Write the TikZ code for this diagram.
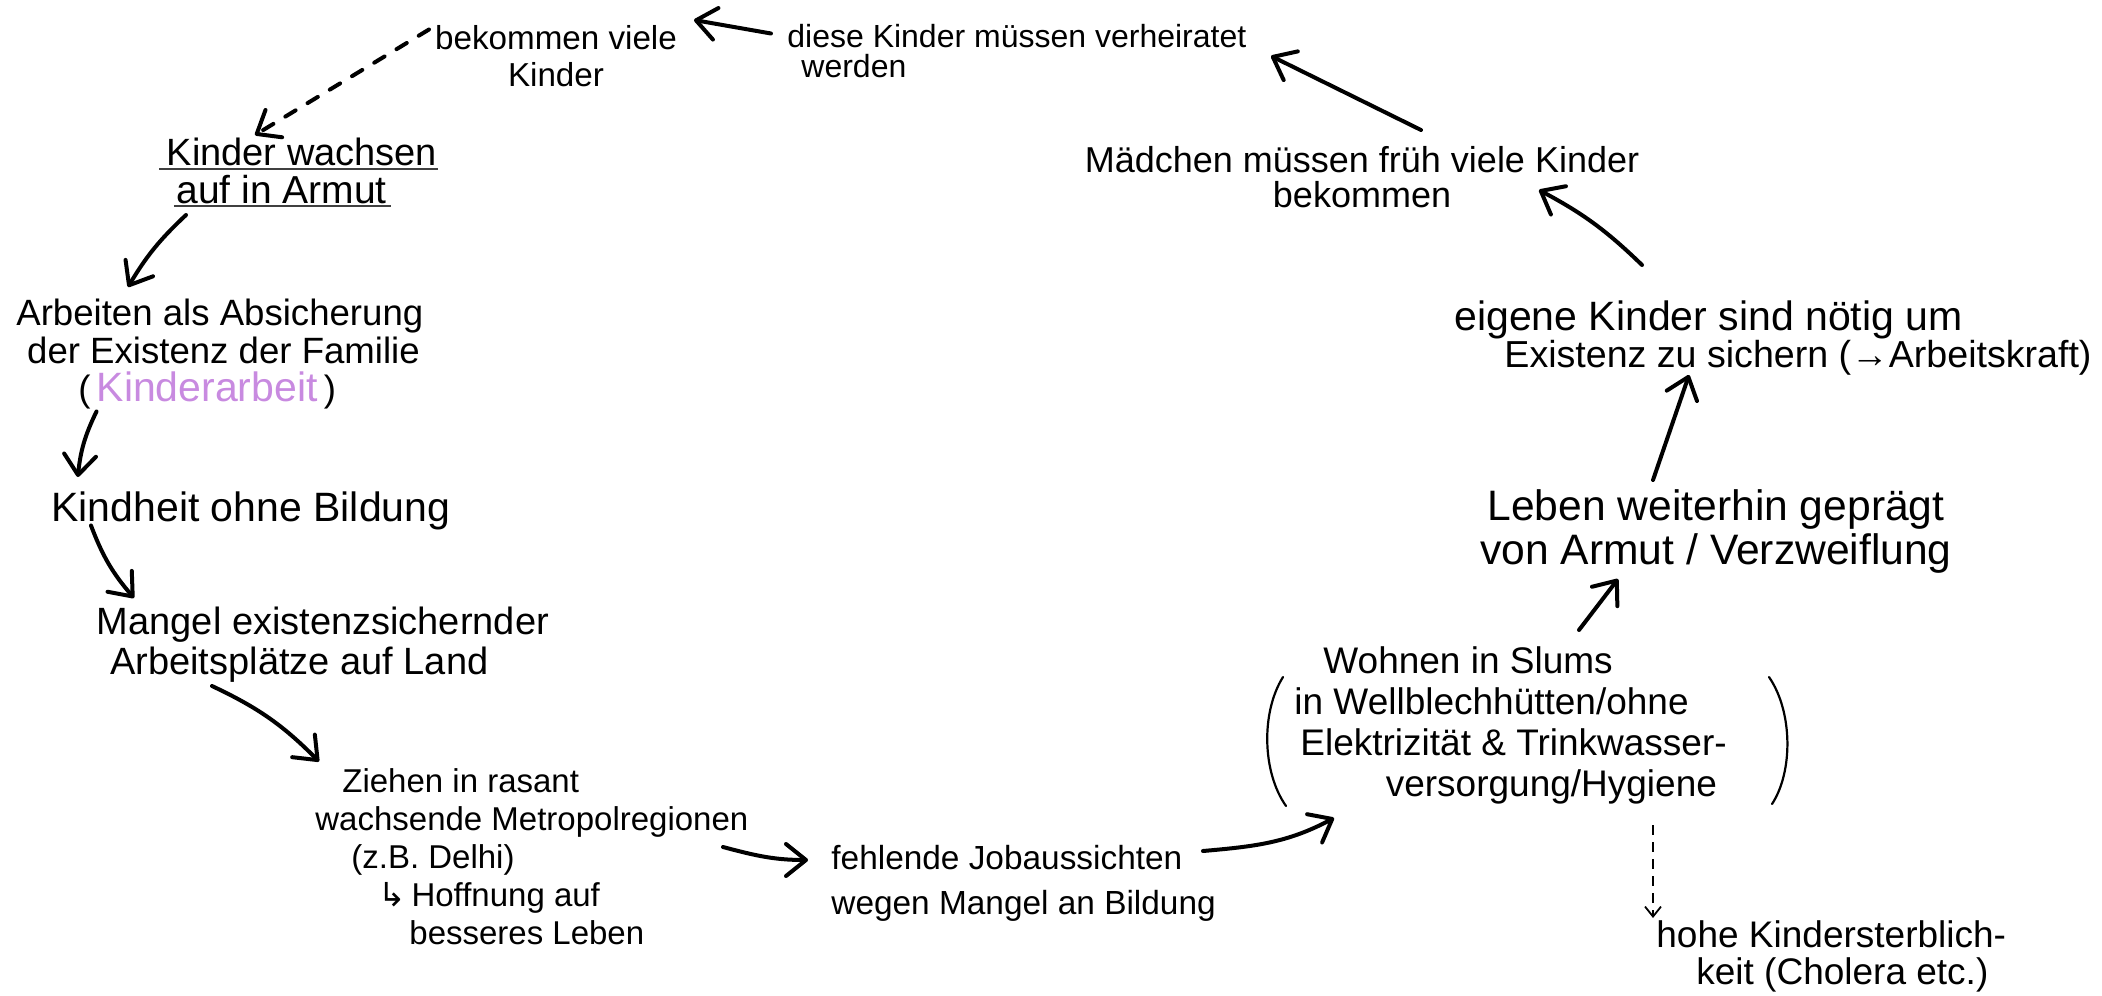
\documentclass[tikz,border=0pt]{standalone}
\usepackage{fontspec}
\setmainfont{Liberation Sans}
\newfontfamily\dejavu{DejaVu Sans}
\usetikzlibrary{arrows.meta}
\definecolor{kviolet}{RGB}{200,138,224}
\newcommand{\fsz}[2]{\fontsize{#1}{#2}\selectfont}
\begin{document}
\begin{tikzpicture}[x=0.5pt,y=0.5pt,
  txt/.style={inner sep=0pt, text=black},
  arr/.style={line width=2pt, line cap=round, -{Straight Barb[length=10pt,width=16pt,round]}},
  darr/.style={arr, dash pattern=on 6pt off 7pt},
  tarr/.style={line width=0.9pt, dash pattern=on 5pt off 3.5pt, -{Straight Barb[length=5pt,width=8pt]}},
  uline/.style={line width=1.2pt, draw=black!75},
  paren/.style={line width=1.1pt, line cap=round}]
\useasboundingbox (0,0) rectangle (2102,-995);

\node[txt, align=center, font=\fsz{16.6}{18.5}] (A) at (556,-56) {bekommen viele\\Kinder};
\node[txt, anchor=west, align=left, font=\fsz{16}{15}] (B) at (787,-51) {diese Kinder müssen verheiratet\\\hspace*{7pt}werden};
\node[txt, align=center, font=\fsz{18}{17.5}] (C) at (1362,-177) {Mädchen müssen früh viele Kinder\\bekommen};
\node[txt, anchor=west, align=left, font=\fsz{18.8}{18.8}] (D) at (1454,-338) {{\fsz{20.5}{18.8}eigene Kinder sind nötig um}\\\hspace*{25pt}Existenz zu sichern (→Arbeitskraft)};
\node[txt, align=center, font=\fsz{21.3}{22}] (E) at (1716,-531) {Leben weiterhin geprägt\\von Armut / Verzweiflung};
\node[txt, anchor=west, align=left, font=\fsz{18.5}{20.5}] (F) at (1294,-725) {\hspace*{14.5pt}Wohnen in Slums\\in Wellblechhütten/ohne\\\hspace*{3pt}Elektrizität \& Trinkwasser-\\\hspace*{45.7pt}versorgung/Hygiene};
\node[txt, anchor=west, align=left, font=\fsz{18.5}{18.5}] (G) at (1656,-956) {hohe Kindersterblich-\\\hspace*{20pt}keit (Cholera etc.)};
\node[txt, anchor=west, align=left, font=\fsz{16.7}{22.5}] (H) at (831,-883.5) {fehlende Jobaussichten\\wegen Mangel an Bildung};
\node[txt, anchor=west, align=left, font=\fsz{16.5}{19}] (I) at (315,-857) {\hspace*{13.5pt}Ziehen in rasant\\wachsende Metropolregionen\\\hspace*{18pt}(z.B. Delhi)\\\hspace*{31.5pt}{\dejavu ↳}\,Hoffnung auf\\\hspace*{47pt}besseres Leben};
\node[txt, anchor=west, align=left, font=\fsz{19}{20}] (J) at (96.5,-645) {Mangel existenzsichernder\\\hspace*{6.7pt}Arbeitsplätze auf Land};
\node[txt, anchor=west, font=\fsz{20.5}{20.5}] (K) at (51,-511) {Kindheit ohne Bildung};
\node[txt, anchor=west, align=left, font=\fsz{18.3}{19.2}] (L) at (16,-354) {Arbeiten als Absicherung\\\hspace*{5.4pt}der Existenz der Familie\\\hspace*{31pt}(\,{\fsz{20.5}{19.2}\color{kviolet}Kinderarbeit}\,)};
\node[txt, anchor=base, font=\fsz{19}{19}] (M1) at (302,-165) {Kinder wachsen};
\node[txt, anchor=base, font=\fsz{19.5}{19.5}] (M2) at (281.5,-203) {auf in Armut};

\draw[uline] ([shift={(-7,-4)}]M1.base west) -- ([shift={(0,-4)}]M1.base east);
\draw[uline] ([shift={(-2,-3)}]M2.base west) -- ([shift={(4,-3)}]M2.base east);

\draw[paren] (1283,-677) .. controls (1261,-712) and (1262,-772) .. (1286,-806);
\draw[paren] (1769,-677) .. controls (1793,-712) and (1793,-772) .. (1772,-804);

\draw[darr] ([shift={(-127,26.5)}]A.center) -- ([shift={(-47,30)}]M1.base);
\draw[arr] ([shift={(-16,17.5)}]B.west) -- ([shift={(138,36)}]A.center);
\draw[arr] ([shift={(59,47)}]C.center) -- ([shift={(484,-5)}]B.west);
\draw[arr] ([shift={(188,73)}]D.west) to[bend right=8] ([shift={(177,-13)}]C.center);
\draw[arr] ([shift={(-63,51)}]E.center) -- ([shift={(235,-37)}]D.west);
\draw[arr] ([shift={(285,95)}]F.west) -- ([shift={(-98,-48)}]E.center);
\draw[tarr] ([shift={(359,-100)}]F.west) -- ([shift={(-3,38)}]G.west);
\draw[arr] ([shift={(372,32.5)}]H.west) to[out=5,in=208] ([shift={(40,-93)}]F.west);
\draw[arr] ([shift={(408,10)}]I.west) to[out=-15,in=180] ([shift={(-23,23.5)}]H.west);
\draw[arr] ([shift={(115.5,-41)}]J.west) to[bend left=10] ([shift={(4,95.5)}]I.west);
\draw[arr] ([shift={(40,-14.5)}]K.west) to[bend right=10] ([shift={(37.5,47)}]J.west);
\draw[arr] ([shift={(80.5,-57.5)}]L.west) to[bend right=10] ([shift={(26.8,34)}]K.west);
\draw[arr] ([shift={(-95.5,-12)}]M2.base) to[bend right=8] ([shift={(112,67)}]L.west);
\end{tikzpicture}
\end{document}
